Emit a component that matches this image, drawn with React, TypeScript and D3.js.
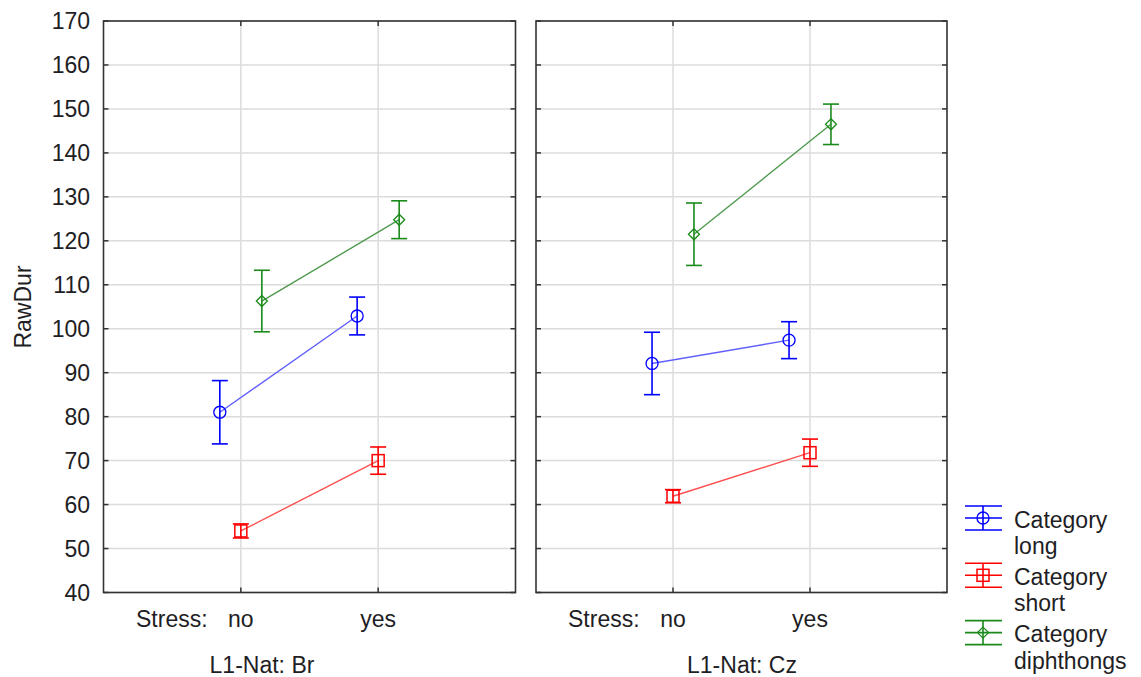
import React from "react";
import * as d3 from "d3";

// ---- Data ----
const nationalities = ["Br", "Cz"];
const stressLevels = ["no", "yes"];
const categories = ["long", "short", "diphthongs"];
const seriesColors = ["#0000ff", "#ff0000", "#1a8a1a"];
const lineColors = ["#6060ff", "#ff5050", "#4f9a4f"];
const yTicks = [40, 50, 60, 70, 80, 90, 100, 110, 120, 130, 140, 150, 160, 170];

// means [nat][stress]
const longMean = [[81.0, 102.9], [92.1, 97.4]];
const longErr = [[7.2, 4.3], [7.1, 4.2]];
const shortMean = [[54.0, 70.0], [61.9, 71.8]];
const shortErr = [[1.6, 3.1], [1.5, 3.1]];
const diphMean = [[106.3, 124.8], [121.5, 146.5]];
const diphErr = [[7.0, 4.3], [7.1, 4.6]];

const means = [longMean, shortMean, diphMean];
const errs = [longErr, shortErr, diphErr];

const W = 1141;
const H = 677;
const top = 21;
const bottom = 592.5;
const panels = [
  { x0: 103.5, x1: 515.5, natLabelX: 262, stressX: 136 },
  { x0: 536, x1: 947, natLabelX: 742, stressX: 568 },
];
const FONT = "'Liberation Sans', Arial, sans-serif";
const TXT = "#1e1e24";
const FS = 23;

const y = d3.scaleLinear().domain([40, 170]).range([bottom, top]);

function Marker({ kind, cx, cy, color }: { kind: number; cx: number; cy: number; color: string }) {
  if (kind === 0) return <circle cx={cx} cy={cy} r={6} fill="none" stroke={color} strokeWidth={1.3} />;
  if (kind === 1)
    return <rect x={cx - 6} y={cy - 6} width={12} height={12} fill="none" stroke={color} strokeWidth={1.5} />;
  const s = 5.5;
  return (
    <path
      d={`M${cx},${cy - s}L${cx + s},${cy}L${cx},${cy + s}L${cx - s},${cy}Z`}
      fill="none"
      stroke={color}
      strokeWidth={1.3}
    />
  );
}

export default function App() {
  const offsets = [-0.153, 0, 0.153];
  return (
    <svg width={W} height={H} style={{ display: "block", position: "absolute", left: 0, top: 0 }}>
      <rect width={W} height={H} fill="#fff" />
      {panels.map((p, pi) => {
        const x = d3.scalePoint<string>().domain(stressLevels).range([p.x0, p.x1]).padding(1);
        const step = x.step();
        return (
          <g key={pi}>
            {/* grid */}
            {yTicks.map((t) => (
              <line key={"gy" + t} x1={p.x0} x2={p.x1} y1={y(t)} y2={y(t)} stroke="#dcdcdc" strokeWidth={1.5} />
            ))}
            {stressLevels.map((s) => (
              <line key={"gx" + s} x1={x(s)} x2={x(s)} y1={top} y2={bottom} stroke="#dcdcdc" strokeWidth={1.5} />
            ))}
            {/* ticks */}
            {yTicks.map((t) => (
              <g key={"t" + t}>
                <line x1={p.x0} x2={p.x0 + 5} y1={y(t)} y2={y(t)} stroke="#333" strokeWidth={1.5} />
                <line x1={p.x1} x2={p.x1 - 5} y1={y(t)} y2={y(t)} stroke="#333" strokeWidth={1.5} />
              </g>
            ))}
            {stressLevels.map((s) => (
              <g key={"tx" + s}>
                <line x1={x(s)} x2={x(s)} y1={top} y2={top + 5} stroke="#333" strokeWidth={1.5} />
                <line x1={x(s)} x2={x(s)} y1={bottom} y2={bottom - 5} stroke="#333" strokeWidth={1.5} />
              </g>
            ))}
            {/* series */}
            {categories.map((c, ci) => {
              const pts = stressLevels.map((s, si) => ({
                cx: (x(s) as number) + offsets[ci] * step,
                m: means[ci][pi][si],
                e: errs[ci][pi][si],
              }));
              const line = d3
                .line<{ cx: number; m: number }>()
                .x((d) => d.cx)
                .y((d) => y(d.m));
              return (
                <g key={c}>
                  <path d={line(pts) || ""} fill="none" stroke={lineColors[ci]} strokeWidth={1.4} />
                  {pts.map((d, i) => (
                    <g key={i}>
                      <line x1={d.cx} x2={d.cx} y1={y(d.m + d.e)} y2={y(d.m - d.e)} stroke={seriesColors[ci]} strokeWidth={1.6} />
                      <line x1={d.cx - 8} x2={d.cx + 8} y1={y(d.m + d.e)} y2={y(d.m + d.e)} stroke={seriesColors[ci]} strokeWidth={1.6} />
                      <line x1={d.cx - 8} x2={d.cx + 8} y1={y(d.m - d.e)} y2={y(d.m - d.e)} stroke={seriesColors[ci]} strokeWidth={1.6} />
                      <Marker kind={ci} cx={d.cx} cy={y(d.m)} color={seriesColors[ci]} />
                    </g>
                  ))}
                </g>
              );
            })}
            {/* frame */}
            <rect x={p.x0} y={top} width={p.x1 - p.x0} height={bottom - top} fill="none" stroke="#333" strokeWidth={1.6} />
            {/* x labels */}
            <text x={p.stressX} y={627} fontSize={FS} fontFamily={FONT} fill={TXT}>
              Stress:
            </text>
            {stressLevels.map((s) => (
              <text key={"xl" + s} x={x(s)} y={627} fontSize={FS} fontFamily={FONT} fill={TXT} textAnchor="middle">
                {s}
              </text>
            ))}
            <text x={p.natLabelX} y={673} fontSize={FS} fontFamily={FONT} fill={TXT} textAnchor="middle">
              {"L1-Nat: " + nationalities[pi]}
            </text>
          </g>
        );
      })}
      {/* y tick labels */}
      {yTicks.map((t) => (
        <text key={"yl" + t} x={90} y={y(t)} dy="0.36em" fontSize={FS} fontFamily={FONT} fill={TXT} textAnchor="end">
          {t}
        </text>
      ))}
      <text transform="translate(31,307) rotate(-90)" fontSize={FS} fontFamily={FONT} fill={TXT} textAnchor="middle">
        RawDur
      </text>
      {/* legend */}
      {categories.map((c, ci) => {
        const cy = 518 + ci * 57.3;
        const col = seriesColors[ci];
        return (
          <g key={"lg" + c}>
            <line x1={965} x2={1002} y1={cy - 12} y2={cy - 12} stroke={col} strokeWidth={1.6} />
            <line x1={965} x2={1002} y1={cy} y2={cy} stroke={col} strokeWidth={1.6} />
            <line x1={965} x2={1002} y1={cy + 12} y2={cy + 12} stroke={col} strokeWidth={1.6} />
            <line x1={983} x2={983} y1={cy - 12} y2={cy + 12} stroke={col} strokeWidth={1.6} />
            <Marker kind={ci} cx={983} cy={cy} color={col} />
            <text x={1014} y={cy + 9.5} fontSize={FS} fontFamily={FONT} fill={TXT}>
              Category
            </text>
            <text x={1014} y={cy + 36} fontSize={FS} fontFamily={FONT} fill={TXT}>
              {c}
            </text>
          </g>
        );
      })}
    </svg>
  );
}
